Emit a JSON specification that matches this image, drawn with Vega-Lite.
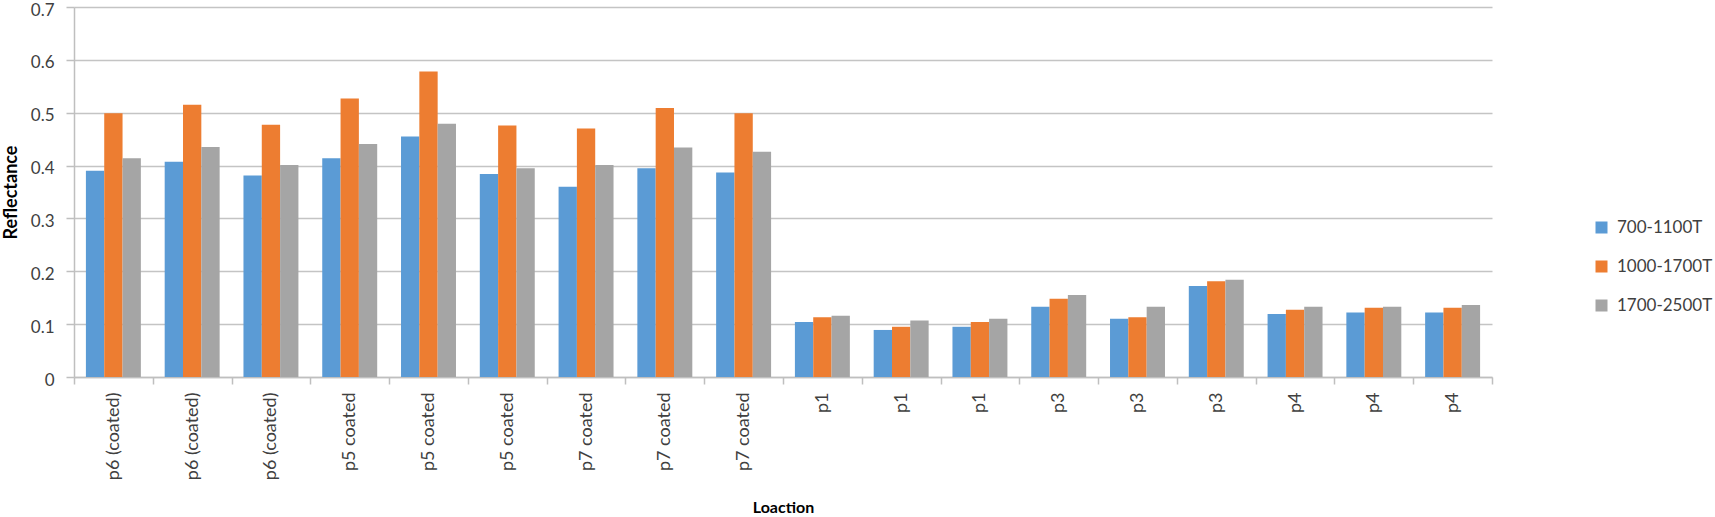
{
  "$schema": "https://vega.github.io/schema/vega-lite/v6.json",
  "width": 1418,
  "height": 370,
  "autosize": {"type": "none"},
  "padding": {"left": 74, "top": 7, "right": 223, "bottom": 140},
  "background": "white",
  "config": {
    "font": "Lato",
    "view": {"stroke": null},
    "axis": {"labelColor": "#404040", "titleColor": "#000000", "domainColor": "#BFBFBF", "tickColor": "#BFBFBF", "gridColor": "#C4C4C4", "domainWidth": 1.5, "tickWidth": 1.5, "gridWidth": 1.5}
  },
  "data": {
    "values": [
      {"sample": "p6 (coated)|1", "band": "700-1100T", "value": 0.390},
      {"sample": "p6 (coated)|1", "band": "1000-1700T", "value": 0.499},
      {"sample": "p6 (coated)|1", "band": "1700-2500T", "value": 0.414},
      {"sample": "p6 (coated)|2", "band": "700-1100T", "value": 0.407},
      {"sample": "p6 (coated)|2", "band": "1000-1700T", "value": 0.515},
      {"sample": "p6 (coated)|2", "band": "1700-2500T", "value": 0.435},
      {"sample": "p6 (coated)|3", "band": "700-1100T", "value": 0.381},
      {"sample": "p6 (coated)|3", "band": "1000-1700T", "value": 0.477},
      {"sample": "p6 (coated)|3", "band": "1700-2500T", "value": 0.401},
      {"sample": "p5 coated|4", "band": "700-1100T", "value": 0.414},
      {"sample": "p5 coated|4", "band": "1000-1700T", "value": 0.527},
      {"sample": "p5 coated|4", "band": "1700-2500T", "value": 0.441},
      {"sample": "p5 coated|5", "band": "700-1100T", "value": 0.455},
      {"sample": "p5 coated|5", "band": "1000-1700T", "value": 0.578},
      {"sample": "p5 coated|5", "band": "1700-2500T", "value": 0.479},
      {"sample": "p5 coated|6", "band": "700-1100T", "value": 0.384},
      {"sample": "p5 coated|6", "band": "1000-1700T", "value": 0.476},
      {"sample": "p5 coated|6", "band": "1700-2500T", "value": 0.395},
      {"sample": "p7 coated|7", "band": "700-1100T", "value": 0.360},
      {"sample": "p7 coated|7", "band": "1000-1700T", "value": 0.470},
      {"sample": "p7 coated|7", "band": "1700-2500T", "value": 0.401},
      {"sample": "p7 coated|8", "band": "700-1100T", "value": 0.395},
      {"sample": "p7 coated|8", "band": "1000-1700T", "value": 0.509},
      {"sample": "p7 coated|8", "band": "1700-2500T", "value": 0.434},
      {"sample": "p7 coated|9", "band": "700-1100T", "value": 0.387},
      {"sample": "p7 coated|9", "band": "1000-1700T", "value": 0.499},
      {"sample": "p7 coated|9", "band": "1700-2500T", "value": 0.426},
      {"sample": "p1|10", "band": "700-1100T", "value": 0.104},
      {"sample": "p1|10", "band": "1000-1700T", "value": 0.113},
      {"sample": "p1|10", "band": "1700-2500T", "value": 0.116},
      {"sample": "p1|11", "band": "700-1100T", "value": 0.089},
      {"sample": "p1|11", "band": "1000-1700T", "value": 0.095},
      {"sample": "p1|11", "band": "1700-2500T", "value": 0.107},
      {"sample": "p1|12", "band": "700-1100T", "value": 0.095},
      {"sample": "p1|12", "band": "1000-1700T", "value": 0.104},
      {"sample": "p1|12", "band": "1700-2500T", "value": 0.110},
      {"sample": "p3|13", "band": "700-1100T", "value": 0.133},
      {"sample": "p3|13", "band": "1000-1700T", "value": 0.148},
      {"sample": "p3|13", "band": "1700-2500T", "value": 0.155},
      {"sample": "p3|14", "band": "700-1100T", "value": 0.110},
      {"sample": "p3|14", "band": "1000-1700T", "value": 0.113},
      {"sample": "p3|14", "band": "1700-2500T", "value": 0.133},
      {"sample": "p3|15", "band": "700-1100T", "value": 0.172},
      {"sample": "p3|15", "band": "1000-1700T", "value": 0.181},
      {"sample": "p3|15", "band": "1700-2500T", "value": 0.184},
      {"sample": "p4|16", "band": "700-1100T", "value": 0.119},
      {"sample": "p4|16", "band": "1000-1700T", "value": 0.127},
      {"sample": "p4|16", "band": "1700-2500T", "value": 0.133},
      {"sample": "p4|17", "band": "700-1100T", "value": 0.122},
      {"sample": "p4|17", "band": "1000-1700T", "value": 0.131},
      {"sample": "p4|17", "band": "1700-2500T", "value": 0.133},
      {"sample": "p4|18", "band": "700-1100T", "value": 0.122},
      {"sample": "p4|18", "band": "1000-1700T", "value": 0.131},
      {"sample": "p4|18", "band": "1700-2500T", "value": 0.136}
    ]
  },
  "mark": {"type": "bar"},
  "encoding": {
    "x": {
      "field": "sample",
      "type": "nominal",
      "sort": null,
      "scale": {"paddingInner": 0, "paddingOuter": 0},
      "axis": {
        "title": "Loaction",
        "titleFontSize": 16,
        "titleFontWeight": "bold",
        "titlePadding": 20,
        "labelExpr": "isString(datum.value) ? split(datum.value, '|')[0] : ''",
        "labelAngle": -90,
        "labelFontSize": 18,
        "labelPadding": 8,
        "tickBand": "extent",
        "tickSize": 7,
        "grid": false
      }
    },
    "xOffset": {
      "field": "band",
      "type": "nominal",
      "sort": ["700-1100T", "1000-1700T", "1700-2500T"],
      "scale": {"paddingOuter": 0.65, "paddingInner": 0}
    },
    "y": {
      "field": "value",
      "type": "quantitative",
      "scale": {"domain": [0, 0.7], "nice": false},
      "axis": {
        "title": "Reflectance",
        "titleFontSize": 18,
        "titleFontWeight": "bold",
        "titlePadding": 10,
        "values": [0, 0.1, 0.2, 0.3, 0.4, 0.5, 0.6, 0.7],
        "format": ".1~f",
        "labelFontSize": 17,
        "labelPadding": 12,
        "labelOffset": 3,
        "tickSize": 8,
        "grid": true
      }
    },
    "color": {
      "field": "band",
      "type": "nominal",
      "sort": ["700-1100T", "1000-1700T", "1700-2500T"],
      "scale": {"domain": ["700-1100T", "1000-1700T", "1700-2500T"], "range": ["#5B9BD5", "#ED7D31", "#A5A5A5"]},
      "legend": {
        "title": null,
        "orient": "none",
        "legendX": 1519,
        "legendY": 212,
        "symbolType": "square",
        "symbolSize": 144,
        "symbolStrokeWidth": 0,
        "labelFontSize": 17,
        "labelColor": "#404040",
        "labelOffset": 7,
        "rowPadding": 21
      }
    }
  }
}
